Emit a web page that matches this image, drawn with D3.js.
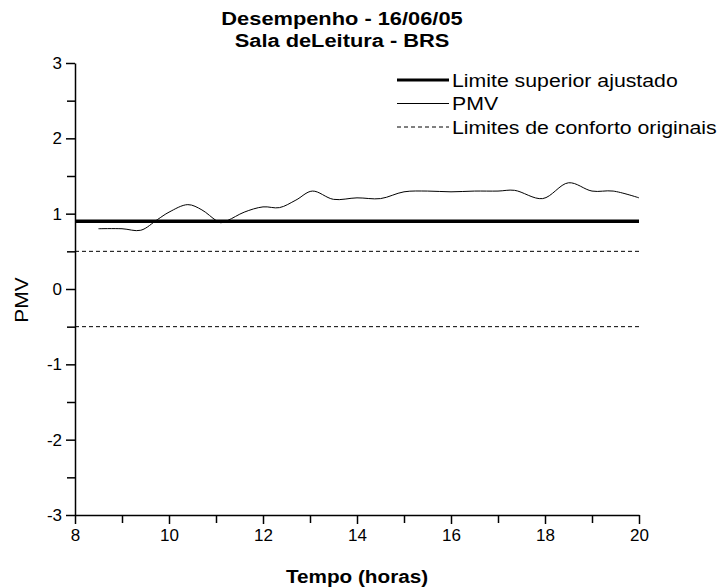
<!DOCTYPE html>
<html>
<head>
<meta charset="utf-8">
<script src="https://cdn.jsdelivr.net/npm/d3@7"></script>
<style>
  body { margin: 0; background: #fff; }
  text { font-family: "Liberation Sans", Arial, sans-serif; fill: #000; }
</style>
</head>
<body>
<script>
    // PMV readings (hours / value)
    var hours = [8.5, 9.0, 9.4, 9.75, 10.0, 10.4, 10.7, 11.0, 11.1, 11.25, 11.6, 12.0, 12.35, 12.7, 13.05, 13.5, 14.0, 14.5, 15.0, 15.5, 16.0, 16.5, 17.0, 17.35, 17.95, 18.5, 19.0, 19.45, 20.0];
    var pmv = [0.80, 0.80, 0.78, 0.92, 1.02, 1.12, 1.05, 0.91, 0.88, 0.91, 1.02, 1.09, 1.08, 1.18, 1.30, 1.19, 1.21, 1.20, 1.29, 1.30, 1.29, 1.30, 1.30, 1.31, 1.20, 1.41, 1.30, 1.30, 1.21];
    var limiteAjustado = 0.9;
    var limitesOriginais = [0.5, -0.5];
    var xTicks = [8, 10, 12, 14, 16, 18, 20];
    var yTicks = [-3, -2, -1, 0, 1, 2, 3];
    var legendLabels = ["Limite superior ajustado", "PMV", "Limites de conforto originais"];

    var margin = {top: 63, right: 85, bottom: 73, left: 75};
    var width = 724 - margin.left - margin.right;
    var height = 588 - margin.top - margin.bottom;

    var data = hours.map(function(h, i) { return {h: h, v: pmv[i]}; });

    var x = d3.scaleLinear().domain([8, 20]).range([0, width]);
    var y = d3.scaleLinear().domain([-3, 3]).range([height, 0]);

    var svg = d3.select("body")
        .append("svg")
        .attr("width", 724)
        .attr("height", 588);

    var g = svg.append("g")
        .attr("transform", "translate(" + margin.left + "," + margin.top + ")");

    // minor ticks
    g.append("g")
        .attr("transform", "translate(0," + height + ")")
        .call(d3.axisBottom(x).tickValues(d3.range(9, 20, 2)).tickSize(8).tickFormat(""))
        .call(function(a) { a.select(".domain").remove(); a.selectAll("line").attr("stroke-width", 1.5); });
    g.append("g")
        .call(d3.axisLeft(y).tickValues(d3.range(-2.5, 3, 1)).tickSize(8).tickFormat(""))
        .call(function(a) { a.select(".domain").remove(); a.selectAll("line").attr("stroke-width", 1.5); });

    var fmt = function(d) { return String(d); };

    g.append("g")
        .attr("class", "axis axis--x")
        .attr("transform", "translate(0," + height + ")")
        .call(d3.axisBottom(x).tickValues(xTicks).tickFormat(fmt).tickSize(9).tickSizeOuter(0).tickPadding(5))
        .call(function(a) {
            a.select(".domain").attr("stroke-width", 1.5);
            a.selectAll("line").attr("stroke-width", 1.5);
            a.selectAll("text").style("font-size", "17px").style("font-family", "Liberation Sans, Arial, sans-serif");
        });

    g.append("g")
        .attr("class", "axis axis--y")
        .call(d3.axisLeft(y).tickValues(yTicks).tickFormat(fmt).tickSize(9).tickSizeOuter(0).tickPadding(4))
        .call(function(a) {
            a.select(".domain").attr("stroke-width", 1.5);
            a.selectAll("line").attr("stroke-width", 1.5);
            a.selectAll("text").style("font-size", "17px").style("font-family", "Liberation Sans, Arial, sans-serif");
        });

    // comfort limits
    g.selectAll(".lim")
        .data(limitesOriginais)
        .enter().append("line")
        .attr("x1", x(8)).attr("x2", x(20))
        .attr("y1", function(d) { return y(d); })
        .attr("y2", function(d) { return y(d); })
        .attr("stroke", "#000")
        .attr("stroke-width", 1)
        .attr("stroke-dasharray", "4,3");

    var line = d3.line()
        .x(function(d) { return x(d.h); })
        .y(function(d) { return y(d.v); })
        .curve(d3.curveCatmullRom);

    g.append("path")
        .datum(data)
        .attr("fill", "none")
        .attr("stroke", "#000")
        .attr("stroke-width", 1)
        .attr("d", line);

    g.append("line")
        .attr("x1", x(8)).attr("x2", x(20))
        .attr("y1", y(limiteAjustado)).attr("y2", y(limiteAjustado))
        .attr("stroke", "#000")
        .attr("stroke-width", 3.5);

    // title (source text is a bit wide, hence the x scale)
    var title = svg.append("g")
        .attr("transform", "translate(342,0) scale(1.18,1)")
        .append("text")
        .attr("text-anchor", "middle")
        .style("font-size", "18.5px")
        .style("font-weight", "bold");
    title.append("tspan").attr("x", 0).attr("y", 25).text("Desempenho - 16/06/05");
    title.append("tspan").attr("x", 0).attr("y", 47).text("Sala deLeitura - BRS");

    // legend
    var legend = svg.append("g").attr("transform", "translate(397,80)");
    var styles = [{w: 3, dash: null}, {w: 1, dash: null}, {w: 1, dash: "4,3"}];
    legendLabels.forEach(function(lbl, i) {
        var row = legend.append("g").attr("transform", "translate(0," + (i * 23.5) + ")");
        row.append("line")
            .attr("x1", 0).attr("x2", 52)
            .attr("y1", 0).attr("y2", 0)
            .attr("stroke", "#000")
            .attr("stroke-width", styles[i].w)
            .attr("stroke-dasharray", styles[i].dash);
        row.append("g")
            .attr("transform", "translate(55,0) scale(1.15,1)")
            .append("text")
            .attr("y", 6.5)
            .style("font-size", "18.5px")
            .text(lbl);
    });

    // axis labels
    svg.append("g")
        .attr("transform", "translate(" + (margin.left + width / 2) + ",583) scale(1.12,1)")
        .append("text")
        .attr("text-anchor", "middle")
        .style("font-size", "18.5px")
        .style("font-weight", "bold")
        .text("Tempo (horas)");

    svg.append("text")
        .attr("transform", "translate(28,300) rotate(-90) scale(1.1,1)")
        .attr("text-anchor", "middle")
        .style("font-size", "19px")
        .style("font-family", "Liberation Sans, Arial, sans-serif")
        .text("PMV");
</script>
</body>
</html>
